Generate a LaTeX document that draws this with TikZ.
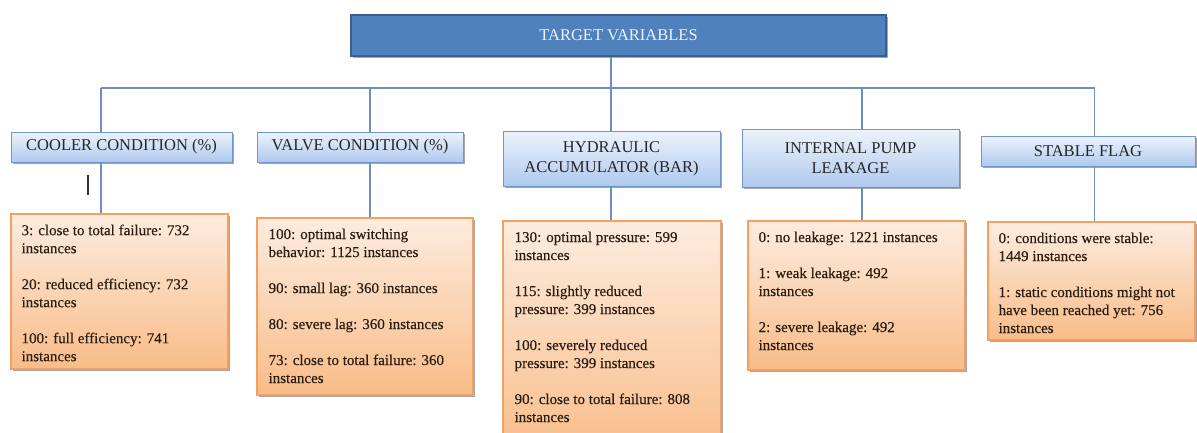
\documentclass[tikz,border=0pt]{standalone}
\usepackage{fontspec}
\setmainfont{Liberation Serif}
\newfontfamily\tnr{Liberation Serif}
\newfontfamily\tnrh[FakeBold=0.35]{Liberation Serif}
\usetikzlibrary{shadows,calc}
\definecolor{topfill}{HTML}{4F81BD}
\definecolor{topdraw}{HTML}{3A5F8F}
\definecolor{catdraw}{HTML}{7096C8}
\definecolor{cattop}{HTML}{EDF3FC}
\definecolor{catbot}{HTML}{AFC9EE}
\definecolor{linec}{HTML}{6C8EC2}
\definecolor{ordraw}{HTML}{F5A060}
\definecolor{ortop}{HTML}{FDECDF}
\definecolor{orbot}{HTML}{F9BC88}
\definecolor{ortext}{HTML}{2A1E12}
\definecolor{toptext}{HTML}{EEF3FA}
\begin{document}
\begin{tikzpicture}[x=1pt,y=-1pt,
 shad/.style={drop shadow={shadow xshift=1.5pt,shadow yshift=-1.5pt,opacity=0.35,fill=black}},
 topbox/.style={draw=topdraw,line width=1.2pt,fill=topfill,text=toptext,font=\tnr\fontsize{16.5}{19}\selectfont,inner sep=0pt,shad},
 catbox/.style={draw=catdraw,line width=1pt,top color=cattop,bottom color=catbot,text=black!85,font=\tnr\fontsize{16.5}{20}\selectfont,align=center,inner sep=0pt,shad},
 valbox/.style={draw=ordraw,line width=1.2pt,top color=ortop,bottom color=orbot,inner sep=0pt,shad},
 valtext/.style={anchor=north west,inner sep=0pt,align=left,text=ortext,font=\tnrh\fontsize{15}{18}\selectfont},
 conn/.style={draw=linec,line width=1.4pt},
]
\useasboundingbox (0,0) rectangle (1197,432);
\clip (0,0) rectangle (1197,432);
\fill[white] (0,0) rectangle (1197,432);

% top
\node[topbox,minimum width=535pt,minimum height=41pt] (top) at (618.5,35.5) {TARGET VARIABLES};

% categories
\node[catbox,minimum width=221pt,minimum height=30pt] (cool) at (121.5,147) {COOLER CONDITION (\%)};
\node[catbox,minimum width=206pt,minimum height=30pt] (valve) at (360,147) {VALVE CONDITION (\%)};
\node[catbox,minimum width=217pt,minimum height=55pt] (hyd) at (611.5,158.5) {HYDRAULIC\\ACCUMULATOR (BAR)};
\node[catbox,minimum width=217pt,minimum height=58pt] (int) at (850.5,158) {INTERNAL PUMP\\LEAKAGE};
\node[catbox,minimum width=214pt,minimum height=30pt] (stab) at (1088,151) {STABLE FLAG};

% value boxes
\node[valbox,minimum width=217pt,minimum height=155pt] (coolv) at (119.5,291.5) {};
\node[valbox,minimum width=216pt,minimum height=177pt] (valvev) at (365,306.5) {};
\node[valbox,minimum width=218pt,minimum height=239pt] (hydv) at (612,340.5) {};
\node[valbox,minimum width=217pt,minimum height=149pt] (intv) at (856.5,295.5) {};
\node[valbox,minimum width=207pt,minimum height=118pt] (stabv) at (1091.5,281) {};

\node[valtext] (coolt) at ($(coolv.north west)+(11,11)$) {3: close to total failure: 732\\instances\\[18pt]20: reduced efficiency: 732\\instances\\[18pt]100: full efficiency: 741\\instances};
\node[valtext] (valvet) at ($(valvev.north west)+(12,11)$) {100: optimal switching\\behavior: 1125 instances\\[18pt]90: small lag: 360 instances\\[18pt]80: severe lag: 360 instances\\[18pt]73: close to total failure: 360\\instances};
\node[valtext] (hydt) at ($(hydv.north west)+(12,11)$) {130: optimal pressure: 599\\instances\\[18pt]115: slightly reduced\\pressure: 399 instances\\[18pt]100: severely reduced\\pressure: 399 instances\\[18pt]90: close to total failure: 808\\instances};
\node[valtext] (intt) at ($(intv.north west)+(11,11)$) {0: no leakage: 1221 instances\\[18pt]1: weak leakage: 492\\instances\\[18pt]2: severe leakage: 492\\instances};
\node[valtext] (stabt) at ($(stabv.north west)+(11,11)$) {0: conditions were stable:\\1449 instances\\[18pt]1: static conditions might not\\have been reached yet: 756\\instances};

% junctions
\coordinate (jc) at (101,88);
\coordinate (jv) at (370,88);
\coordinate (jh) at (611,88);
\coordinate (ji) at (862,88);
\coordinate (js) at (1094.5,88);

\draw[conn] (top.south -| jh) -- (jh);
\draw[conn] (jc) -- (js);
\foreach \j/\c/\v in {jc/cool/coolv,jv/valve/valvev,jh/hyd/hydv,ji/int/intv,js/stab/stabv}{
  \draw[conn] (\j) -- (\j |- \c.north);
  \draw[conn] (\j |- \c.south) -- (\j |- \v.north);
}

% stray mark under cooler condition
\draw[line width=1.6pt,black!80] (88,175) -- (88,195);
\end{tikzpicture}
\end{document}
